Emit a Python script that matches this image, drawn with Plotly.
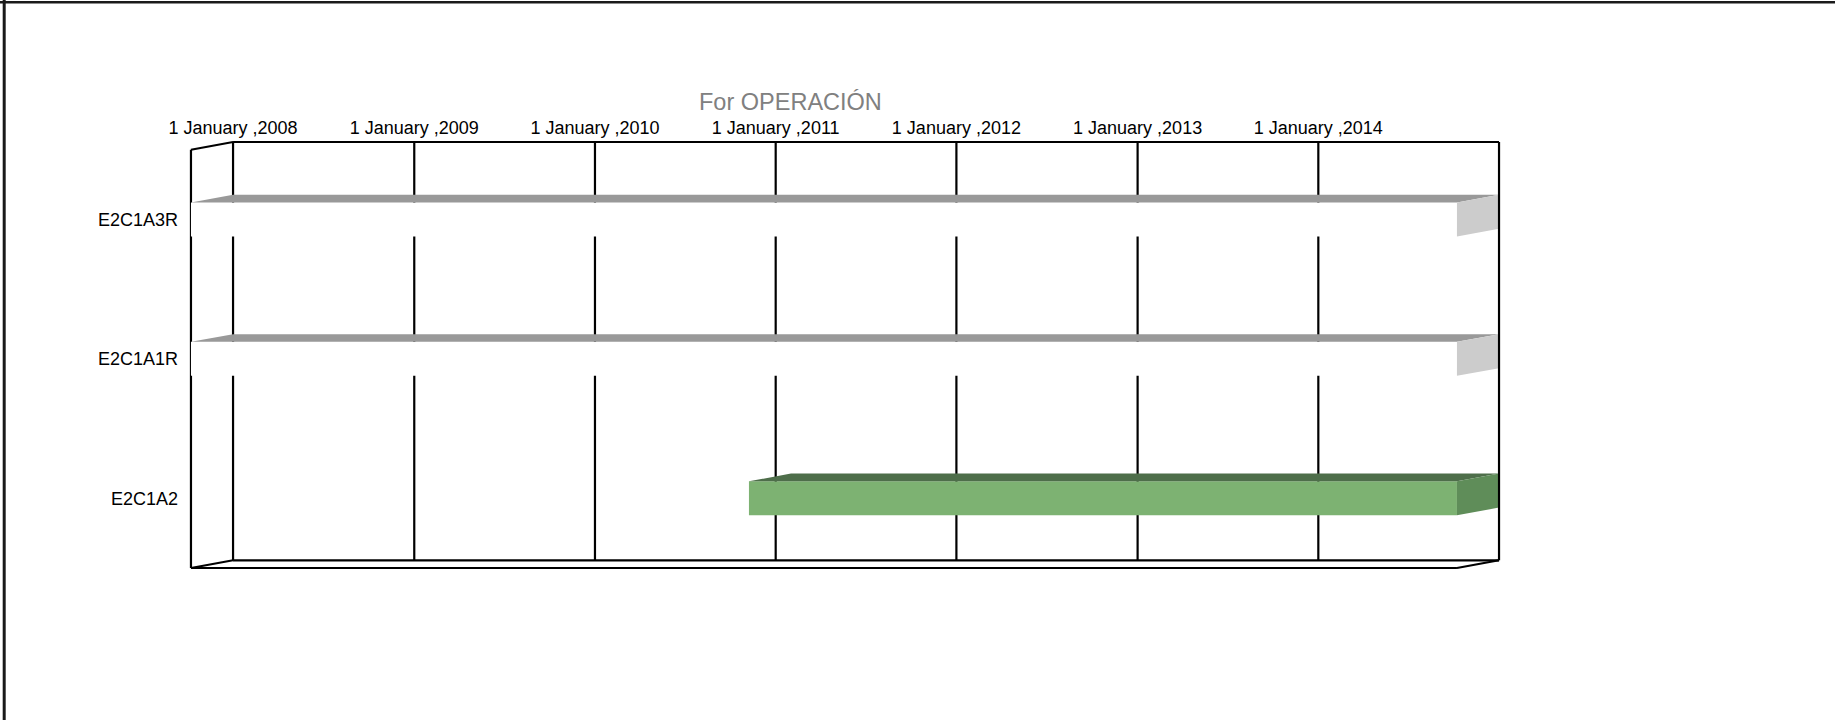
import plotly.graph_objects as go
import pandas as pd

# ---------------- data ----------------
categories = ["E2C1A3R", "E2C1A1R", "E2C1A2"]
start_dates = ["2008-01-01", "2008-01-01", "2011-02-01"]
end_dates = ["2015-01-01", "2015-01-01", "2015-01-01"]
tick_dates = ["2008-01-01", "2009-01-01", "2010-01-01", "2011-01-01",
              "2012-01-01", "2013-01-01", "2014-01-01"]
tick_labels = ["1 January ,2008", "1 January ,2009", "1 January ,2010",
               "1 January ,2011", "1 January ,2012", "1 January ,2013",
               "1 January ,2014"]
axis_min = "2008-01-01"
axis_max = "2015-01-01"
title_text = "For OPERACIÓN"

# ---------------- styles ----------------
face_front = ["#FFFFFF", "#FFFFFF", "#7DB272"]
face_top = ["#999999", "#999999", "#4E6E4A"]
face_side = ["#CCCCCC", "#CCCCCC", "#5F8D59"]
FONT = "Liberation Sans, Arial, sans-serif"

depth = pd.Timedelta(days=85)      # horizontal 3D depth offset
dy = 0.0553                        # vertical 3D depth offset (category units)
half = 0.122                       # half bar thickness (category units)
padx = pd.Timedelta(days=6)
pady = 0.0215

amin = pd.Timestamp(axis_min)
amax = pd.Timestamp(axis_max)


def ts(t):
    return pd.Timestamp(t).strftime("%Y-%m-%d %H:%M:%S")


fig = go.Figure()

# bars as 3D boxes
for i, cat in enumerate(categories):
    s = max(pd.Timestamp(start_dates[i]), amin)
    e = min(pd.Timestamp(end_dates[i]), amax)
    yb_t, yb_b = i - half, i + half            # back face
    yf_t, yf_b = i - half + dy, i + half + dy  # front face
    polys = [
        # front
        ([s - depth, e - depth, e - depth, s - depth, s - depth],
         [yf_t, yf_t, yf_b, yf_b, yf_t], face_front[i]),
        # top
        ([s - depth, s, e, e - depth, s - depth],
         [yf_t, yb_t, yb_t, yf_t, yf_t], face_top[i]),
        # side
        ([e - depth, e, e, e - depth, e - depth],
         [yf_t, yb_t, yb_b, yf_b, yf_t], face_side[i]),
    ]
    for xs, ys, col in polys:
        fig.add_trace(go.Scatter(
            x=[ts(v) for v in xs], y=ys, mode="lines", fill="toself",
            fillcolor=col, line=dict(width=0, color=col),
            hoverinfo="skip", showlegend=False))

shapes = []
LINE = dict(color="#000000", width=2.2)
# vertical gridlines on back wall
for d in tick_dates:
    shapes.append(dict(type="line", xref="x", yref="y", x0=ts(d), x1=ts(d),
                       y0=-0.5, y1=2.5, line=LINE, layer="below"))
# back wall top & bottom
shapes.append(dict(type="line", xref="x", yref="y", x0=ts(amin), x1=ts(amax),
                   y0=-0.5, y1=-0.5, line=LINE, layer="below"))
shapes.append(dict(type="line", xref="x", yref="y", x0=ts(amin), x1=ts(amax),
                   y0=2.5, y1=2.5, line=LINE, layer="below"))
# left wall
shapes.append(dict(type="line", xref="x", yref="y", x0=ts(amin - depth), x1=ts(amin - depth),
                   y0=-0.5 + dy, y1=2.5 + dy, line=LINE, layer="below"))
shapes.append(dict(type="line", xref="x", yref="y", x0=ts(amin - depth), x1=ts(amin),
                   y0=-0.5 + dy, y1=-0.5, line=LINE, layer="below"))
shapes.append(dict(type="line", xref="x", yref="y", x0=ts(amin - depth), x1=ts(amin),
                   y0=2.5 + dy, y1=2.5, line=LINE, layer="below"))
# floor front edge and right diagonal
shapes.append(dict(type="line", xref="x", yref="y", x0=ts(amin - depth), x1=ts(amax - depth),
                   y0=2.5 + dy, y1=2.5 + dy, line=LINE, layer="below"))
shapes.append(dict(type="line", xref="x", yref="y", x0=ts(amax - depth), x1=ts(amax),
                   y0=2.5 + dy, y1=2.5, line=LINE, layer="below"))
# back wall right edge (on top)
shapes.append(dict(type="line", xref="x", yref="y", x0=ts(amax), x1=ts(amax),
                   y0=-0.5, y1=2.5, line=LINE, layer="above"))

# outer border (top and left) in paper coords
L, R, T, B = 188, 333, 139, 149
W, H = 1835 - L - R, 720 - T - B
shapes.append(dict(type="line", xref="paper", yref="paper",
                   x0=(0 - L) / W, x1=(1835 - L) / W,
                   y0=1 + (T - 2.2) / H, y1=1 + (T - 2.2) / H,
                   line=dict(color="#1a1a1a", width=2.5)))
shapes.append(dict(type="line", xref="paper", yref="paper",
                   x0=(4.2 - L) / W, x1=(4.2 - L) / W,
                   y0=1 + T / H, y1=-B / H,
                   line=dict(color="#1a1a1a", width=3)))

fig.update_layout(
    width=1835, height=720, autosize=False,
    margin=dict(l=L, r=R, t=T, b=B, pad=0),
    paper_bgcolor="white", plot_bgcolor="white",
    shapes=shapes,
    showlegend=False,
    font=dict(family=FONT, color="#000000"),
    annotations=[dict(text=title_text, xref="paper", yref="paper",
                      x=(790 - L) / W, y=1 + (T - 102) / H,
                      xanchor="center", yanchor="middle", showarrow=False,
                      font=dict(family=FONT, size=23.5, color="#808080"))],
    xaxis=dict(type="date", side="top",
               range=[ts(amin - depth - padx), ts(amax + padx)],
               tickvals=[ts(d) for d in tick_dates], ticktext=tick_labels,
               tickfont=dict(family=FONT, size=18, color="#000000"),
               showgrid=False, showline=False, zeroline=False, ticks="",
               fixedrange=True),
    yaxis=dict(range=[2.5 + dy + pady, -0.5 - pady],
               tickvals=[i + dy for i in range(len(categories))],
               ticktext=categories,
               tickfont=dict(family=FONT, size=18, color="#000000"),
               showgrid=False, showline=False, zeroline=False, ticks="",
               ticklabelstandoff=9, fixedrange=True),
)

fig.write_html("out.html",
               config={"displayModeBar": False},
               post_script="document.body.style.margin='0';document.body.style.overflow='hidden';")
